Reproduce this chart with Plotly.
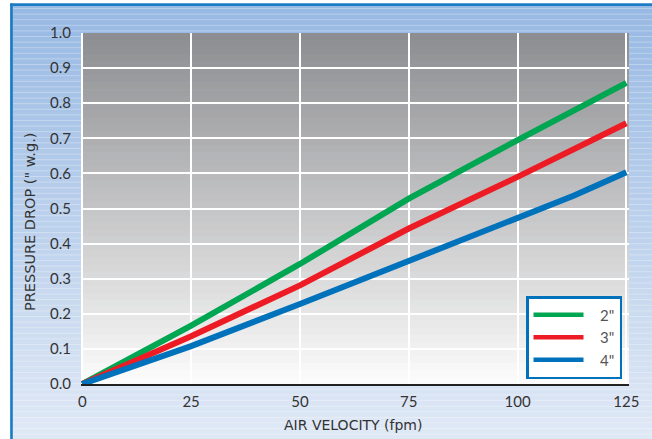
import plotly.graph_objects as go

# ---- data ----
velocity_2in = [0, 25, 50, 75, 100, 125]
drop_2in = [0.0, 0.166, 0.342, 0.528, 0.695, 0.858]

velocity_3in = [0, 25, 50, 68, 75, 100, 125]
drop_3in = [0.0, 0.136, 0.281, 0.395, 0.443, 0.59, 0.743]

velocity_4in = [0, 25, 50, 75, 100, 113, 125]
drop_4in = [0.0, 0.108, 0.228, 0.35, 0.472, 0.537, 0.603]

series_names = ['2"', '3"', '4"']
series_colors = ["#00a651", "#ed1c24", "#0072bc"]

x_ticks = [0, 25, 50, 75, 100, 125]
y_ticks = [0.0, 0.1, 0.2, 0.3, 0.4, 0.5, 0.6, 0.7, 0.8, 0.9, 1.0]
y_ticktext = ["0.0", "0.1", "0.2", "0.3", "0.4", "0.5", "0.6", "0.7", "0.8", "0.9", "1.0"]

x_title = "AIR VELOCITY (fpm)"
y_title = 'PRESSURE DROP (" w.g.)'

# ---- layout geometry ----
W, H = 652, 439
ML, MR, MT, MB = 81, 23, 33, 55
PW, PH = W - ML - MR, H - MT - MB


def px(xp):
    return (xp - ML) / PW


def py(yp):
    return (H - MB - yp) / PH


def mix(c1, c2, t):
    a = [int(c1[i:i + 2], 16) for i in (1, 3, 5)]
    b = [int(c2[i:i + 2], 16) for i in (1, 3, 5)]
    return "#%02x%02x%02x" % tuple(round(a[k] + (b[k] - a[k]) * t) for k in range(3))


shapes = []
# outer frame gradient (light blue)
frame_top, frame_bot = 3, H
n = 40
for i in range(n):
    y0 = frame_top + (frame_bot - frame_top) * i / n
    y1 = min(frame_top + (frame_bot - frame_top) * (i + 1) / n + 0.5, H)
    shapes.append(dict(type="rect", xref="paper", yref="paper", layer="below",
                       x0=px(10), x1=px(W), y0=py(y1), y1=py(y0),
                       line=dict(width=0),
                       fillcolor=mix("#98b9e3", "#dfe8f5", i / (n - 1))))
# subtle horizontal stripes
yy = 8.5
while yy < H:
    shapes.append(dict(type="line", xref="paper", yref="paper", layer="below",
                       x0=px(13), x1=px(W), y0=py(yy), y1=py(yy),
                       line=dict(width=1, color="rgba(255,255,255,0.3)")))
    yy += 5.6
# plot-area gradient (dark gray top -> near white bottom)
m = 50
for i in range(m):
    shapes.append(dict(type="rect", xref="x domain", yref="y domain", layer="below",
                       x0=0, x1=1, y0=max(1 - (i + 1) / m - 0.002, 0), y1=1 - i / m,
                       line=dict(width=0),
                       fillcolor=mix("#8d8e91", "#fbfbfb", i / (m - 1))))
# frame border (top and left edges visible in the reference)
shapes.append(dict(type="line", xref="paper", yref="paper", layer="above",
                   x0=px(10.2), x1=px(W), y0=py(4.7), y1=py(4.7),
                   line=dict(width=2.6, color="#1a7cc4")))
shapes.append(dict(type="line", xref="paper", yref="paper", layer="above",
                   x0=px(11.5), x1=px(11.5), y0=py(H), y1=py(3.4),
                   line=dict(width=2.6, color="#1a7cc4")))

fig = go.Figure()
for xs, ys, name, col in zip([velocity_2in, velocity_3in, velocity_4in],
                             [drop_2in, drop_3in, drop_4in],
                             series_names, series_colors):
    fig.add_trace(go.Scatter(x=xs, y=ys, mode="lines", name=name, legendgroup=name,
                             showlegend=False, line=dict(color=col, width=6)))
# legend entries (thinner sample lines, as in the reference)
for name, col in zip(series_names, series_colors):
    fig.add_trace(go.Scatter(x=[None], y=[None], mode="lines", name="   " + name,
                             legendgroup=name, showlegend=True,
                             line=dict(color=col, width=4.5)))

tick_font = "Lato, 'DejaVu Sans', sans-serif"
title_font = "'DejaVu Sans', sans-serif"

fig.update_layout(
    width=W, height=H,
    autosize=False,
    margin=dict(l=ML, r=MR, t=MT, b=MB, pad=0, autoexpand=False),
    paper_bgcolor="white",
    plot_bgcolor="rgba(0,0,0,0)",
    shapes=shapes,
    font=dict(family=tick_font, size=15, color="#333333"),
    showlegend=True,
    legend=dict(
        x=px(622), y=py(379), xanchor="right", yanchor="bottom",
        bgcolor="white", bordercolor="#0072bc", borderwidth=2.5,
        font=dict(family=tick_font, size=15, color="#555555"),
        itemwidth=50, tracegroupgap=0,
    ),
    xaxis=dict(
        range=[-0.3, 125.6], tickvals=x_ticks, ticktext=[str(v) for v in x_ticks],
        showgrid=True, gridcolor="white", gridwidth=1.5,
        zeroline=False, showline=True, linecolor="#222222", linewidth=1.5,
        ticks="", ticklen=0, ticklabelstandoff=3, automargin=False,
    ),
    yaxis=dict(
        range=[0, 1.0], tickvals=y_ticks, ticktext=y_ticktext,
        showgrid=True, gridcolor="white", gridwidth=1.5,
        zeroline=False, showline=False,
        ticks="", ticklen=0, ticklabelstandoff=9, automargin=False,
    ),
    annotations=[
        dict(text=x_title, xref="paper", yref="paper", x=px(353), y=py(425),
             xanchor="center", yanchor="middle", showarrow=False,
             font=dict(family=title_font, size=14, color="#333333")),
        dict(text=y_title, xref="paper", yref="paper", x=px(30), y=py(222),
             xanchor="center", yanchor="middle", showarrow=False, textangle=-90,
             font=dict(family=title_font, size=14.5, color="#333333")),
    ],
)

fig.write_html("out.html", config={"displayModeBar": False},
               post_script="document.body.style.margin='0px';")
